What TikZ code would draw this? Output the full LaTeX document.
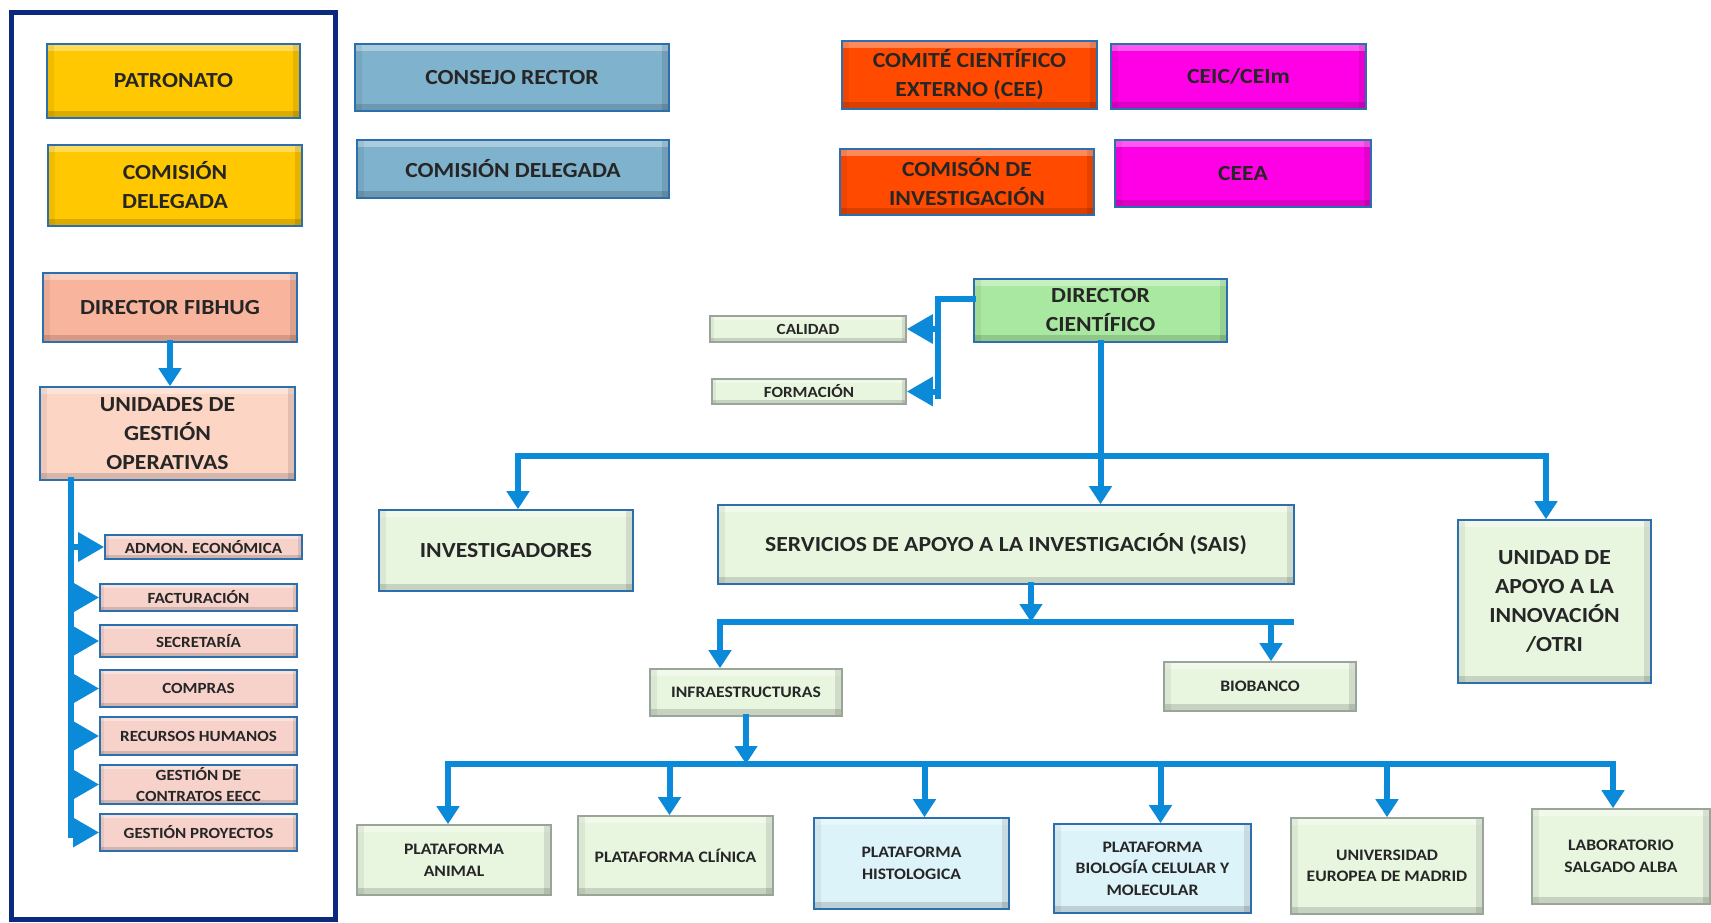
\documentclass[tikz,border=0pt]{standalone}
\usepackage{fontspec}
\setmainfont{Carlito}[FakeStretch=1.1]
\usetikzlibrary{arrows.meta}

\definecolor{gold}{HTML}{FFC800}
\definecolor{steel}{HTML}{7FB2CC}
\definecolor{redorg}{HTML}{FF4A00}
\definecolor{fucsia}{HTML}{FF00E6}
\definecolor{salmon}{HTML}{F8B49C}
\definecolor{peach}{HTML}{FCD5C4}
\definecolor{rosa}{HTML}{F6D2CA}
\definecolor{verde}{HTML}{A9E8A0}
\definecolor{pale}{HTML}{E8F6E0}
\definecolor{celeste}{HTML}{DDF3FA}
\definecolor{linkblue}{HTML}{0A8AD8}
\definecolor{navy}{HTML}{0B2A7E}
\definecolor{boxedge}{HTML}{2C6FAE}
\definecolor{greyedge}{HTML}{9AA59A}

\tikzset{
    bevel/.style={path picture={
        \fill[white, opacity=0.35] (path picture bounding box.north west) rectangle ([yshift=-#1]path picture bounding box.north east);
        \fill[black, opacity=0.14] (path picture bounding box.south west) rectangle ([yshift=#1]path picture bounding box.south east);
        \fill[black, opacity=0.10] (path picture bounding box.south east) rectangle ([xshift=-#1]path picture bounding box.north east);
        \fill[black, opacity=0.06] (path picture bounding box.south west) rectangle ([xshift=#1]path picture bounding box.north west);}},
    box/.style={draw=boxedge, line width=1.6pt, align=center, text=black!85, inner sep=1pt, bevel=7pt},
    bigbox/.style={box, font=\bfseries\fontsize{21.5}{29}\selectfont},
    midbox/.style={box, font=\bfseries\fontsize{16}{21.5}\selectfont},
    smallbox/.style={box, bevel=4pt, font=\bfseries\fontsize{15.5}{21}\selectfont},
    conn/.style={draw=linkblue, line width=6pt, line cap=rect},
    arr/.style={conn, -{Triangle[width=22pt,length=18pt]}},
    sidearr/.style={conn, -{Triangle[width=28pt,length=26pt]}},
}

\begin{document}
\begin{tikzpicture}[x=1pt,y=-1pt]
    \useasboundingbox (0,0) rectangle (1711,923);
    \draw[navy, line width=5pt] (11,13) rectangle (335,919);

    % fundacion
    \node[bigbox, fill=gold, minimum width=253pt, minimum height=74pt] (pat) at (173.5,81) {PATRONATO};
    \node[bigbox, fill=gold, minimum width=254pt, minimum height=81pt] (cdl) at (175,185.5) {COMISIÓN\\DELEGADA};
    \node[bigbox, fill=salmon, minimum width=254pt, minimum height=69pt] (dfib) at (170,307.5) {DIRECTOR FIBHUG};
    \node[bigbox, fill=peach, minimum width=255pt, minimum height=93pt] (ugo) at (167.5,433.5) {UNIDADES DE\\GESTIÓN\\OPERATIVAS};
    \node[smallbox, fill=rosa, minimum width=197pt, minimum height=24pt] (adm) at (203.5,547) {ADMON. ECONÓMICA};
    \node[smallbox, fill=rosa, minimum width=197pt, minimum height=27pt] (fac) at (198.5,597.5) {FACTURACIÓN};
    \node[smallbox, fill=rosa, minimum width=197pt, minimum height=32pt] (sec) at (198.5,641) {SECRETARÍA};
    \node[smallbox, fill=rosa, minimum width=197pt, minimum height=37pt] (com) at (198.5,688.5) {COMPRAS};
    \node[smallbox, fill=rosa, minimum width=197pt, minimum height=38pt] (rrh) at (198.5,736) {RECURSOS HUMANOS};
    \node[smallbox, fill=rosa, minimum width=197pt, minimum height=39pt] (gce) at (198.5,784.5) {GESTIÓN DE\\CONTRATOS EECC};
    \node[smallbox, fill=rosa, minimum width=197pt, minimum height=37pt] (gpr) at (198.5,832.5) {GESTIÓN PROYECTOS};

    \draw[arr] (dfib.south) -- (dfib.south |- ugo.north);
    \coordinate (sp1) at (71,480);
    \coordinate (sp2) at (71,835);
    \draw[conn] (sp1) -- (sp2);
    \foreach \b in {adm,fac,sec,com,rrh,gce,gpr}
        \draw[sidearr] (sp1 |- \b) -- (\b.west);

    % organos
    \node[bigbox, fill=steel, minimum width=314pt, minimum height=67pt] (cr) at (512,77.5) {CONSEJO RECTOR};
    \node[bigbox, fill=steel, minimum width=312pt, minimum height=58pt] (cdb) at (513,169) {COMISIÓN DELEGADA};
    \node[bigbox, fill=redorg, minimum width=255pt, minimum height=68pt] (cee) at (969.5,75) {COMITÉ CIENTÍFICO\\EXTERNO (CEE)};
    \node[bigbox, fill=fucsia, minimum width=255pt, minimum height=65pt] (ceic) at (1238.5,76.5) {CEIC/CEIm};
    \node[bigbox, fill=redorg, minimum width=254pt, minimum height=66pt] (cinv) at (967,182) {COMISÓN DE\\INVESTIGACIÓN};
    \node[bigbox, fill=fucsia, minimum width=256pt, minimum height=67pt] (ceea) at (1243,173.5) {CEEA};

    % direccion cientifica
    \node[bigbox, fill=verde, minimum width=253pt, minimum height=63pt] (dc) at (1100.5,310.5) {DIRECTOR\\CIENTÍFICO};
    \node[smallbox, draw=greyedge, fill=pale, minimum width=196pt, minimum height=26pt] (cal) at (808,329) {CALIDAD};
    \node[smallbox, draw=greyedge, fill=pale, minimum width=194pt, minimum height=25pt] (form) at (809,391.5) {FORMACIÓN};

    \coordinate (br1) at (938,299);
    \coordinate (br2) at (938,396);
    \draw[conn] (dc.west |- br1) -- (br1) -- (br2);
    \draw[sidearr] (br1 |- cal) -- (cal.east);
    \draw[sidearr] (br1 |- form) -- (form.east);

    \node[bigbox, fill=pale, minimum width=254pt, minimum height=81pt] (inv) at (506,550.5) {INVESTIGADORES};
    \node[bigbox, fill=pale, minimum width=576pt, minimum height=79pt] (sais) at (1006,544.5) {SERVICIOS DE APOYO A LA INVESTIGACIÓN (SAIS)};
    \node[bigbox, fill=pale, minimum width=193pt, minimum height=163pt] (otri) at (1554.5,601.5) {UNIDAD DE\\APOYO A LA\\INNOVACIÓN\\/OTRI};

    \coordinate (b1l) at (518,456);
    \coordinate (b1r) at (1546,456);
    \draw[conn] (b1l) -- (b1r);
    \draw[arr] (dc.south) -- (dc.south |- sais.north);
    \draw[arr] (b1l) -- (b1l |- inv.north);
    \draw[arr] (b1r) -- (b1r |- otri.north);

    % servicios
    \node[midbox, draw=greyedge, fill=pale, minimum width=192pt, minimum height=47pt] (infra) at (746,692.5) {INFRAESTRUCTURAS};
    \node[midbox, draw=greyedge, fill=pale, minimum width=192pt, minimum height=49pt] (bio) at (1260,686.5) {BIOBANCO};

    \coordinate (s2) at ([xshift=25pt]sais.south);
    \coordinate (b2l) at (720,622);
    \coordinate (b2r) at (1271,622);
    \draw[arr] (s2) -- (s2 |- b2l);
    \draw[conn] (b2l) -- (1291,622);
    \draw[arr] (b2l) -- (b2l |- infra.north);
    \draw[arr] (b2r) -- (b2r |- bio.north);

    \node[midbox, draw=greyedge, fill=pale, minimum width=194pt, minimum height=70pt] (pa) at (454,860) {PLATAFORMA\\ANIMAL};
    \node[midbox, draw=greyedge, fill=pale, minimum width=195pt, minimum height=79pt] (pc) at (675.5,855.5) {PLATAFORMA CLÍNICA};
    \node[midbox, fill=celeste, minimum width=195pt, minimum height=91pt] (ph) at (911.5,863.5) {PLATAFORMA\\HISTOLOGICA};
    \node[midbox, fill=celeste, minimum width=197pt, minimum height=89pt] (pb) at (1152.5,868.5) {PLATAFORMA\\BIOLOGÍA CELULAR Y\\MOLECULAR};
    \node[midbox, draw=greyedge, fill=pale, minimum width=192pt, minimum height=96pt] (ue) at (1387,866) {UNIVERSIDAD\\EUROPEA DE MADRID};
    \node[midbox, draw=greyedge, fill=pale, minimum width=178pt, minimum height=95pt] (ls) at (1621,856.5) {LABORATORIO\\SALGADO ALBA};

    \coordinate (b3) at (0,764);
    \draw[arr] (infra.south) -- (infra.south |- b3);
    \draw[conn] (448,764) -- (1613,764);
    \foreach \b/\dx in {pa/-6,pc/-6,ph/13,pb/8,ue/0,ls/-8} {
        \coordinate (t) at ([xshift=\dx pt]\b.north);
        \draw[arr] (t |- b3) -- (t);
    }
\end{tikzpicture}
\end{document}
